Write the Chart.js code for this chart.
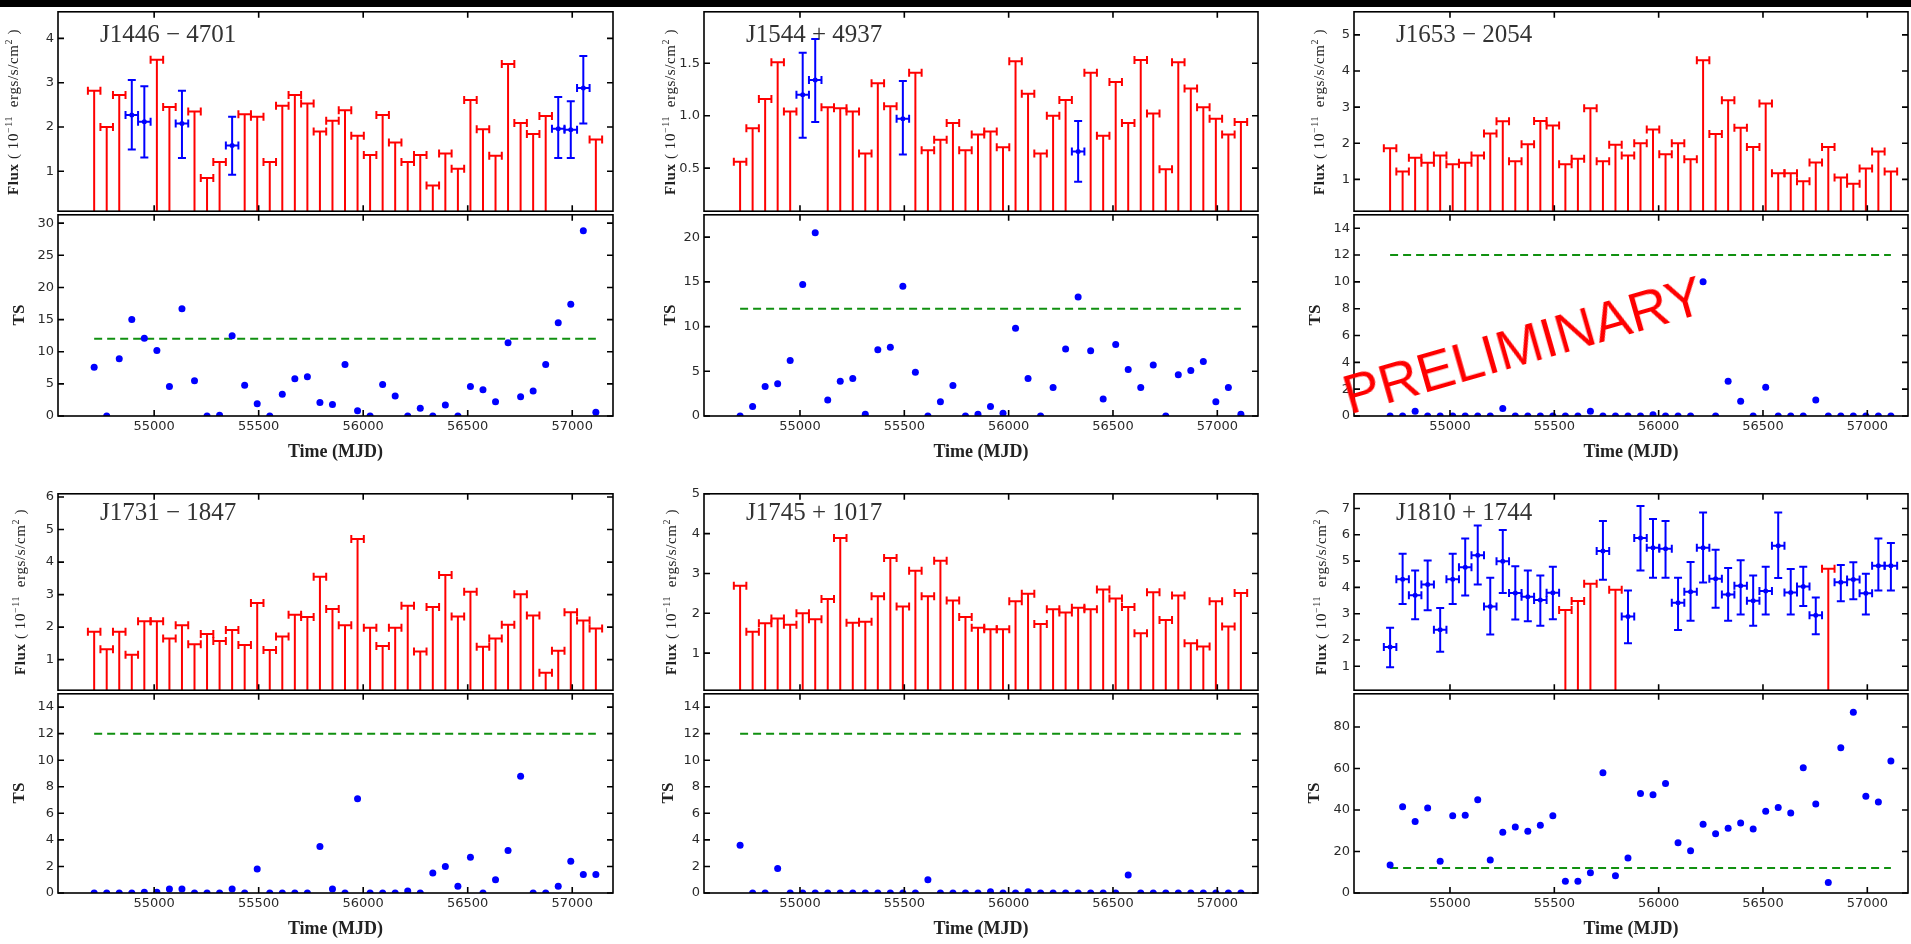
<!DOCTYPE html>
<html>
<head>
<meta charset="utf-8">
<script src="https://cdn.jsdelivr.net/npm/chart.js@4.4.0/dist/chart.umd.min.js"></script>
<style>
  body { margin: 0; background: #fff; width: 1911px; height: 944px; position: relative; overflow: hidden; }
  .band { position: absolute; left: 0; top: 0; width: 1911px; height: 7px; background: #000; }
  .plot { position: absolute; }
  .name { position: absolute; font-family: 'Liberation Serif', serif; font-size: 25px; line-height: 25px; color: #333; white-space: pre; }
  .ylab { position: absolute; transform: translate(-50%, -50%) rotate(-90deg); white-space: pre;
          font-family: 'Liberation Serif', serif; color: #222; }
  .ylab.flux { font-size: 15px; letter-spacing: 0.6px; }
  .ylab.flux sup { font-size: 10px; vertical-align: 6px; line-height: 0; }
  .ylab.ts { font-size: 17px; font-weight: bold; }
  .xlab { position: absolute; transform: translate(-50%, -50%); white-space: pre;
          font-family: 'Liberation Serif', serif; font-size: 18px; font-weight: bold; color: #222; }
  .stamp { position: absolute; transform: translate(-50%, -50%) rotate(-16deg); white-space: pre;
           font-family: 'Liberation Sans', sans-serif; font-size: 55px; color: #ff0000; }
</style>
</head>
<body>
<div class="band"></div>
<script>
// 60-day time bins (MJD centres) shared by every light curve
const binCenters = [54713, 54773, 54833, 54893, 54953, 55013, 55073, 55133, 55193, 55253,
  55313, 55373, 55433, 55493, 55553, 55613, 55673, 55733, 55793, 55853,
  55913, 55973, 56033, 56093, 56153, 56213, 56273, 56333, 56393, 56453,
  56513, 56573, 56633, 56693, 56753, 56813, 56873, 56933, 56993, 57053, 57113];
const binHalfWidth = 30;
const tsThreshold = 12;
const timeTicks = [55000, 55500, 56000, 56500, 57000];

// flux per bin (1e-11 erg/s/cm2): upper limit unless the bin has a [low, high] error entry
const j1446Flux = [2.82, 2.0, 2.72, 2.27, 2.12, 3.52, 2.45, 2.08, 2.35, 0.85, 1.21, 1.58, 2.29, 2.23, 1.21,
  2.48, 2.72, 2.53, 1.9, 2.14, 2.38, 1.8, 1.37, 2.27, 1.65, 1.21, 1.37, 0.68, 1.4, 1.06,
  2.61, 1.95, 1.35, 3.42, 2.09, 1.84, 2.25, 1.96, 1.94, 2.88, 1.72];
const j1446Bounds = { 3: [1.49, 3.06], 4: [1.31, 2.92], 7: [1.3, 2.82], 11: [0.92, 2.23],
  37: [1.3, 2.68], 38: [1.3, 2.58], 39: [2.08, 3.6] };
const j1446TS = [7.6, 0, 8.9, 15.0, 12.1, 10.2, 4.6, 16.7, 5.5, 0, 0.1, 12.5, 4.8, 1.9, 0,
  3.4, 5.8, 6.1, 2.1, 1.8, 8.0, 0.8, 0, 4.9, 3.1, 0, 1.2, 0, 1.7, 0,
  4.6, 4.1, 2.2, 11.4, 3.0, 3.9, 8.0, 14.5, 17.4, 28.8, 0.6];

const j1544Flux = [0.56, 0.88, 1.16, 1.51, 1.04, 1.2, 1.34, 1.08, 1.07, 1.04, 0.64, 1.31, 1.09, 0.97, 1.41,
  0.67, 0.77, 0.93, 0.67, 0.82, 0.85, 0.7, 1.52, 1.21, 0.64, 1.0, 1.15, 0.66, 1.41, 0.81,
  1.32, 0.93, 1.53, 1.02, 0.49, 1.51, 1.26, 1.08, 0.97, 0.82, 0.94];
const j1544Bounds = { 5: [0.79, 1.6], 6: [0.94, 1.73], 13: [0.63, 1.33], 27: [0.37, 0.95] };
const j1544TS = [0, 1.05, 3.3, 3.6, 6.2, 14.7, 20.5, 1.8, 3.9, 4.2, 0.2, 7.4, 7.7, 14.5, 4.9,
  0, 1.6, 3.4, 0, 0.2, 1.05, 0.3, 9.8, 4.2, 0, 3.2, 7.5, 13.3, 7.3, 1.9,
  8.0, 5.2, 3.2, 5.7, 0, 4.6, 5.1, 6.1, 1.6, 3.2, 0.2];

const j1653Flux = [1.86, 1.22, 1.6, 1.46, 1.66, 1.42, 1.46, 1.66, 2.27, 2.61, 1.5, 1.97, 2.62, 2.49, 1.42,
  1.57, 2.97, 1.5, 1.96, 1.66, 2.0, 2.38, 1.7, 2.0, 1.56, 4.3, 2.26, 3.19, 2.43, 1.9,
  3.1, 1.17, 1.17, 0.95, 1.47, 1.9, 1.05, 0.88, 1.3, 1.77, 1.22];
const j1653Bounds = {};
const j1653TS = [0, 0, 0.35, 0, 0, 0, 0, 0, 0, 0.55, 0, 0, 0, 0, 0,
  0, 0.35, 0, 0, 0, 0, 0.1, 0, 0, 0, 10.0, 0, 2.6, 1.1, 0,
  2.15, 0, 0, 0, 1.2, 0, 0, 0, 0, 0, 0];

const j1731Flux = [1.86, 1.32, 1.86, 1.15, 2.18, 2.18, 1.65, 2.06, 1.47, 1.79, 1.57, 1.91, 1.45, 2.74, 1.3,
  1.71, 2.38, 2.31, 3.55, 2.56, 2.06, 4.71, 1.98, 1.42, 1.98, 2.66, 1.25, 2.62, 3.6, 2.33,
  3.09, 1.4, 1.65, 2.07, 3.01, 2.36, 0.6, 1.27, 2.46, 2.2, 1.96];
const j1731Bounds = {};
const j1731TS = [0, 0, 0, 0, 0.05, 0.05, 0.3, 0.3, 0, 0, 0, 0.3, 0, 1.8, 0,
  0, 0, 0, 3.5, 0.3, 0, 7.1, 0, 0, 0, 0.15, 0, 1.5, 2.0, 0.5,
  2.7, 0, 1.0, 3.2, 8.8, 0, 0, 0.5, 2.4, 1.4, 1.4];

const j1745Flux = [2.69, 1.54, 1.75, 1.87, 1.71, 2.0, 1.85, 2.36, 3.89, 1.76, 1.79, 2.43, 3.39, 2.17, 3.07,
  2.43, 3.32, 2.32, 1.91, 1.64, 1.6, 1.6, 2.3, 2.49, 1.73, 2.1, 2.02, 2.14, 2.1, 2.6,
  2.37, 2.16, 1.5, 2.53, 1.83, 2.45, 1.25, 1.17, 2.3, 1.67, 2.51];
const j1745Bounds = {};
const j1745TS = [3.6, 0, 0, 1.85, 0, 0, 0, 0, 0, 0, 0, 0, 0, 0, 0,
  1.0, 0, 0, 0, 0, 0.1, 0, 0, 0.1, 0, 0, 0, 0, 0, 0,
  0, 1.35, 0, 0, 0, 0, 0, 0, 0, 0, 0];

const j1810Flux = [1.73, 4.31, 3.7, 4.11, 2.39, 4.31, 4.77, 5.22, 3.27, 4.99, 3.79, 3.64, 3.52, 3.8, 3.14,
  3.48, 4.14, 5.38, 3.91, 2.89, 5.88, 5.51, 5.47, 3.42, 3.83, 5.51, 4.33, 3.73, 4.06, 3.49,
  3.86, 5.58, 3.81, 4.03, 2.94, 4.71, 4.2, 4.3, 3.78, 4.82, 4.82];
const j1810Bounds = { 0: [0.96, 2.47], 1: [3.37, 5.28], 2: [2.79, 4.64], 3: [3.13, 5.02], 4: [1.55, 3.22],
  5: [3.37, 5.28], 6: [3.69, 5.86], 7: [4.11, 6.35], 8: [2.21, 4.37], 9: [3.79, 6.18],
  10: [2.78, 4.8], 11: [2.71, 4.64], 12: [2.54, 4.45], 13: [2.79, 4.79], 17: [4.29, 6.53],
  19: [1.88, 3.88], 20: [4.64, 7.1], 21: [4.37, 6.6], 22: [4.37, 6.53], 23: [2.38, 4.37],
  24: [2.73, 4.97], 25: [4.19, 6.85], 26: [3.23, 5.43], 27: [2.73, 4.74], 28: [2.97, 5.03],
  29: [2.54, 4.45], 30: [2.97, 4.79], 31: [4.36, 6.85], 32: [2.97, 4.7], 33: [3.29, 4.79],
  34: [2.22, 3.62], 36: [3.47, 4.85], 37: [3.55, 4.96], 38: [2.97, 4.52], 39: [3.88, 5.86],
  40: [3.88, 5.69] };
const j1810TS = [13.5, 41.6, 34.5, 41, 15.3, 37.2, 37.5, 45, 15.9, 29.3, 31.8, 29.7, 32.6, 37.2, 5.7,
  5.7, 9.7, 57.9, 8.3, 16.9, 48, 47.4, 52.8, 24.2, 20.4, 33.1, 28.6, 31.2, 33.7, 30.8,
  39.4, 41.2, 38.6, 60.4, 42.9, 5.1, 70, 87.1, 46.6, 43.9, 63.6];

const panels = [
  { name: 'J1446 − 4701', flux: j1446Flux, bounds: j1446Bounds, ts: j1446TS,
    fluxAxis: [0.1, 4.6], fluxTicks: [1, 2, 3, 4], tsAxis: [0, 31.3], tsTicks: [0, 5, 10, 15, 20, 25, 30] },
  { name: 'J1544 + 4937', flux: j1544Flux, bounds: j1544Bounds, ts: j1544TS,
    fluxAxis: [0.09, 1.99], fluxTicks: [0.5, 1.0, 1.5], tsAxis: [0, 22.5], tsTicks: [0, 5, 10, 15, 20] },
  { name: 'J1653 − 2054', flux: j1653Flux, bounds: j1653Bounds, ts: j1653TS,
    fluxAxis: [0.12, 5.64], fluxTicks: [1, 2, 3, 4, 5], tsAxis: [0, 15], tsTicks: [0, 2, 4, 6, 8, 10, 12, 14] },
  { name: 'J1731 − 1847', flux: j1731Flux, bounds: j1731Bounds, ts: j1731TS,
    fluxAxis: [0.06, 6.1], fluxTicks: [1, 2, 3, 4, 5, 6], tsAxis: [0, 15], tsTicks: [0, 2, 4, 6, 8, 10, 12, 14] },
  { name: 'J1745 + 1017', flux: j1745Flux, bounds: j1745Bounds, ts: j1745TS,
    fluxAxis: [0.07, 5.0], fluxTicks: [1, 2, 3, 4, 5], tsAxis: [0, 15], tsTicks: [0, 2, 4, 6, 8, 10, 12, 14] },
  { name: 'J1810 + 1744', flux: j1810Flux, bounds: j1810Bounds, ts: j1810TS,
    fluxAxis: [0.09, 7.56], fluxTicks: [1, 2, 3, 4, 5, 6, 7], tsAxis: [0, 96], tsTicks: [0, 20, 40, 60, 80] }
];

// page geometry of the axes boxes
const colEdges = [[58, 613], [704, 1258], [1354, 1908]];
const rowEdges = [[10, 213, 416], [492, 692, 893]];
const fluxLabelX = [13, 670, 1319, 20, 671, 1321];
const tsLabelX = [19, 670, 1315, 19, 668, 1314];
const timeRange = [54540, 57195];

const RED = '#ff0000';
const BLUE = '#0000ff';
const GREEN = '#109010';
const PAD = 10;
const AXIS_W = 60;
const XLAB_H = 30;

Chart.defaults.font.family = "'DejaVu Sans', sans-serif";
Chart.defaults.font.size = 13;

// matplotlib-like box with inward ticks on all four sides
const framePlugin = {
  id: 'frame',
  afterDatasetsDraw(chart) {
    const { ctx, chartArea: a, scales } = chart;
    const len = 6;
    ctx.save();
    ctx.strokeStyle = '#000';
    ctx.lineWidth = 1.6;
    ctx.strokeRect(a.left, a.top, a.right - a.left, a.bottom - a.top);
    ctx.beginPath();
    for (const v of timeTicks) {
      const px = scales.x.getPixelForValue(v);
      ctx.moveTo(px, a.top); ctx.lineTo(px, a.top + len);
      ctx.moveTo(px, a.bottom); ctx.lineTo(px, a.bottom - len);
    }
    for (const t of scales.y.ticks) {
      const py = scales.y.getPixelForValue(t.value);
      ctx.moveTo(a.left, py); ctx.lineTo(a.left + len, py);
      ctx.moveTo(a.right, py); ctx.lineTo(a.right - len, py);
    }
    ctx.stroke();
    ctx.restore();
  }
};

// line segments separated by null points, capped with short bars
function segments(data, color, capRadius, capAngle) {
  return {
    data, showLine: true, spanGaps: false,
    borderColor: color, borderWidth: 2,
    pointStyle: 'line', pointRadius: capRadius, pointRotation: capAngle,
    pointBorderColor: color, pointBorderWidth: 2
  };
}

function fluxDatasets(p) {
  const ulBar = [], ulStem = [], detXBar = [], detYBar = [], detMark = [];
  const floor = p.fluxAxis[0] - 1;
  binCenters.forEach((t, i) => {
    const v = p.flux[i];
    const b = p.bounds[i];
    const xBar = b ? detXBar : ulBar;
    xBar.push({ x: t - binHalfWidth, y: v }, { x: t + binHalfWidth, y: v }, { x: t, y: null });
    if (b) {
      detYBar.push({ x: t, y: b[0] }, { x: t, y: b[1] }, { x: t, y: null });
      detMark.push({ x: t, y: v });
    } else {
      ulStem.push({ x: t, y: v }, { x: t, y: floor }, { x: t, y: null });
    }
  });
  return [
    { data: detMark, showLine: false, pointRadius: 2.5, pointBackgroundColor: BLUE, pointBorderColor: BLUE, pointBorderWidth: 0 },
    segments(detYBar, BLUE, 4, 0),
    segments(detXBar, BLUE, 4, 90),
    segments(ulBar, RED, 4, 90),
    segments(ulStem, RED, 0, 0)
  ];
}

function tsDatasets(p) {
  return [
    { data: binCenters.map((t, i) => ({ x: t, y: p.ts[i] })), showLine: false,
      pointRadius: 3.5, pointBackgroundColor: BLUE, pointBorderColor: BLUE, pointBorderWidth: 0 },
    { data: [{ x: binCenters[0], y: tsThreshold }, { x: binCenters[binCenters.length - 1], y: tsThreshold }],
      showLine: true, borderColor: GREEN, borderWidth: 2, borderDash: [8, 5], pointRadius: 0 }
  ];
}

function makeChart(box, datasets, yRange, yTicks, yFmt, showTime) {
  const [left, top, right, bottom] = box;
  const w = right - left + AXIS_W + PAD;
  const h = bottom - top + PAD + (showTime ? XLAB_H : PAD);
  const canvas = document.createElement('canvas');
  canvas.className = 'plot';
  canvas.width = w;
  canvas.height = h;
  canvas.style.left = (left - AXIS_W) + 'px';
  canvas.style.top = (top - PAD) + 'px';
  canvas.style.width = w + 'px';
  canvas.style.height = h + 'px';
  document.body.appendChild(canvas);

  return new Chart(canvas, {
    type: 'scatter',
    data: { datasets },
    options: {
      responsive: false,
      animation: false,
      events: [],
      devicePixelRatio: 1,
      layout: { padding: { top: PAD, right: PAD, bottom: showTime ? 0 : PAD, left: 0 } },
      plugins: { legend: { display: false }, tooltip: { enabled: false } },
      scales: {
        x: {
          type: 'linear', min: timeRange[0], max: timeRange[1], display: showTime,
          grid: { display: false, drawTicks: false }, border: { display: false },
          afterBuildTicks: s => { s.ticks = timeTicks.map(v => ({ value: v })); },
          afterFit: s => { s.height = showTime ? XLAB_H : 0; },
          ticks: { padding: 3, color: '#2a2a2a', maxRotation: 0, autoSkip: false, callback: v => String(v) }
        },
        y: {
          type: 'linear', min: yRange[0], max: yRange[1],
          grid: { display: false, drawTicks: false }, border: { display: false },
          afterBuildTicks: s => { s.ticks = yTicks.map(v => ({ value: v })); },
          afterFit: s => { s.width = AXIS_W; },
          ticks: { padding: 4, color: '#2a2a2a', autoSkip: false, callback: yFmt }
        }
      }
    },
    plugins: [framePlugin]
  });
}

function addText(html, cls, x, y) {
  const el = document.createElement('div');
  el.className = cls;
  el.innerHTML = html;
  el.style.left = x + 'px';
  el.style.top = y + 'px';
  document.body.appendChild(el);
}

panels.forEach((p, k) => {
  const [left, right] = colEdges[k % 3];
  const [top, mid, bottom] = rowEdges[Math.floor(k / 3)];
  const fluxFmt = p.fluxTicks.some(v => v % 1 !== 0) ? (v => v.toFixed(1)) : (v => String(v));

  makeChart([left, top, right, mid], fluxDatasets(p), p.fluxAxis, p.fluxTicks, fluxFmt, false);
  makeChart([left, mid, right, bottom], tsDatasets(p), p.tsAxis, p.tsTicks, v => String(v), true);

  addText(p.name, 'name', left + 42, top + (k < 3 ? 11 : 7));
  addText('<b>Flux</b> ( 10<sup>−11</sup>  ergs/s/cm<sup>2</sup> )', 'ylab flux', fluxLabelX[k], (top + mid) / 2);
  addText('TS', 'ylab ts', tsLabelX[k], (mid + bottom) / 2);
  addText('Time (MJD)', 'xlab', (left + right) / 2, bottom + 35);
});

addText('PRELIMINARY', 'stamp', 1523, 345);
</script>
</body>
</html>
